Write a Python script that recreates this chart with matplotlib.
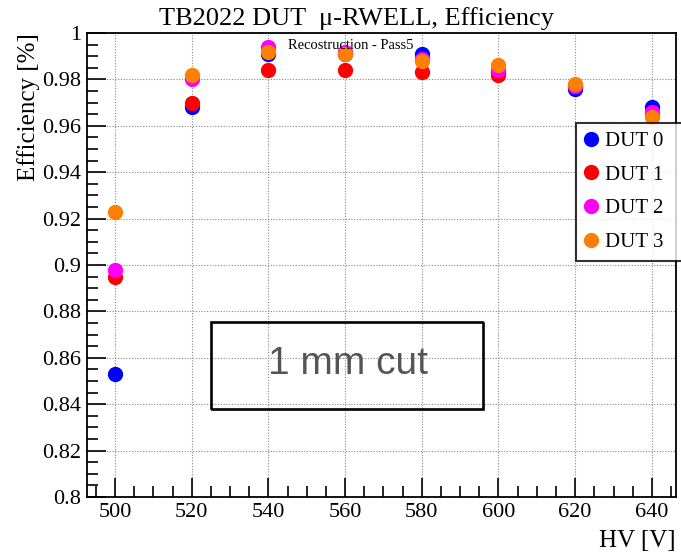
import numpy as np
import matplotlib
matplotlib.use("Agg")
import matplotlib.pyplot as plt
from matplotlib.ticker import MultipleLocator
from matplotlib.patches import Rectangle

# data
hv = [500, 520, 540, 560, 580, 600, 620, 640]
eff_dut0 = [0.853, 0.968, 0.991, 0.991, 0.991, 0.983, 0.976, 0.968]
eff_dut1 = [0.895, 0.970, 0.984, 0.984, 0.983, 0.982, 0.977, 0.965]
eff_dut2 = [0.898, 0.980, 0.994, 0.992, 0.989, 0.984, 0.977, 0.966]
eff_dut3 = [0.923, 0.982, 0.992, 0.991, 0.988, 0.986, 0.978, 0.964]
labels = ["DUT 0", "DUT 1", "DUT 2", "DUT 3"]
colors = ["#0000ff", "#ff0000", "#ff00ff", "#ff7f00"]

serif = "Liberation Serif"

fig = plt.figure(figsize=(6.81, 5.53), dpi=100)
ax = fig.add_axes([0.1278, 0.1013, 0.8649, 0.839])

series = [eff_dut0, eff_dut1, eff_dut2, eff_dut3]
for vals, lab, col in zip(series, labels, colors):
    ax.plot(hv, vals, "o", color=col, ms=10, mec=col, label=lab, zorder=3)

ax.set_xlim(492.7, 646.3)
ax.set_ylim(0.8, 1.0)
ax.xaxis.set_major_locator(MultipleLocator(20))
ax.xaxis.set_minor_locator(MultipleLocator(5))
ax.yaxis.set_major_locator(MultipleLocator(0.02))
ax.yaxis.set_minor_locator(MultipleLocator(0.005))
ax.yaxis.set_major_formatter(matplotlib.ticker.FuncFormatter(lambda v, p: ("%.2f" % v).rstrip("0").rstrip(".")))

ax.tick_params(which="both", direction="in", top=False, right=False, width=1.2)
ax.tick_params(which="major", length=14, labelsize=16, pad=4)
ax.tick_params(which="minor", length=8)
for lab in ax.get_xticklabels() + ax.get_yticklabels():
    lab.set_fontfamily(serif)
for s in ax.spines.values():
    s.set_linewidth(1.3)

ax.grid(True, which="major", color="#888888", linestyle=(0, (1, 1.5)), linewidth=0.8)

ax.set_xlabel("HV [V]", fontfamily=serif, fontsize=18, loc="right", labelpad=6)
ax.set_ylabel("Efficiency [%]", fontfamily=serif, fontsize=18, loc="top", labelpad=2)

fig.text(0.524, 0.966, "TB2022 DUT  \u03bc-RWELL, Efficiency", ha="center", va="center",
         fontfamily=serif, fontsize=19)
ax.text(0.447, 0.974, "Recostruction - Pass5", transform=ax.transAxes, ha="center", va="center",
        fontfamily=serif, fontsize=10.5)

# "1 mm cut" box (transparent, with a small shadow like ROOT's TPaveText)
shadow = Rectangle((0.2125, 0.188), 0.462, 0.1875, transform=ax.transAxes, fill=False,
                   edgecolor="black", linewidth=1.2, zorder=4)
ax.add_patch(shadow)
box = Rectangle((0.2105, 0.190), 0.462, 0.1875, transform=ax.transAxes, fill=False,
                edgecolor="black", linewidth=1.2, zorder=4)
ax.add_patch(box)
ax.text(0.4435, 0.287, "1 mm cut", transform=ax.transAxes, ha="center", va="center",
        fontfamily="Liberation Sans", fontsize=28, color="#555555", zorder=5)

# legend runs off the right edge of the canvas, as in the reference
leg = fig.legend(loc="upper left", bbox_to_anchor=(576 / 681, 1 - 123 / 553, 125 / 681, 0.0),
                 mode="expand", prop={"family": serif, "size": 15},
                 frameon=True, fancybox=False, edgecolor="black", handletextpad=0.4,
                 borderpad=0.4, labelspacing=0.68, handlelength=0.6, borderaxespad=0)
leg.get_frame().set_linewidth(1.5)

plt.savefig("out.png", dpi=100)
